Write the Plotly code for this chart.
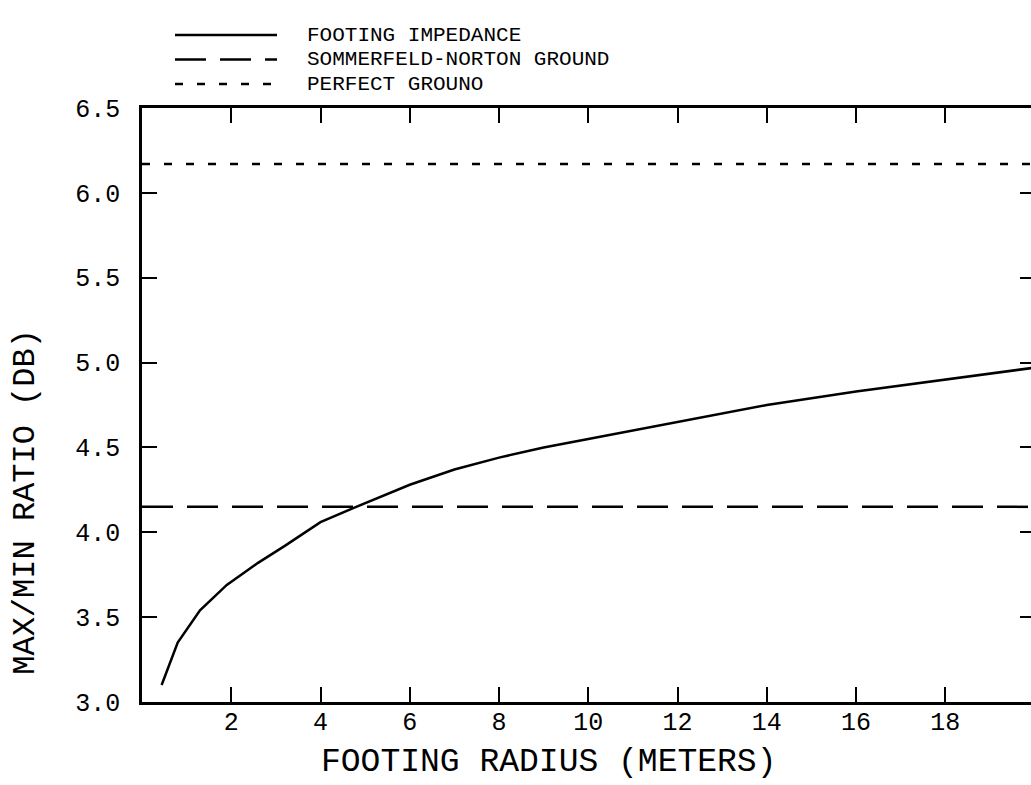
import plotly.graph_objects as go

# Footing radius (m) and max/min ratio (dB) for the footing-impedance model
radius_m = [0.44, 0.8, 1.3, 1.9, 2.6, 3.2, 4.0, 4.8, 6.0, 7.0, 8.0, 9.0,
            10.0, 11.0, 12.0, 13.0, 14.0, 16.0, 18.0, 20.0]
footing_db = [3.10, 3.35, 3.54, 3.69, 3.82, 3.92, 4.06, 4.15, 4.28, 4.37, 4.44, 4.50,
              4.55, 4.60, 4.65, 4.70, 4.75, 4.83, 4.90, 4.97]

# Reference levels (constant with radius)
sommerfeld_db = 4.15
perfect_db = 6.17
ref_span = [0.0, 20.0]

series_names = ["FOOTING IMPEDANCE", "SOMMERFELD-NORTON GROUND", "PERFECT GROUNO"]
series_dash = ["solid", "31px,14px", "8px,14px"]

x_tick_vals = [2, 4, 6, 8, 10, 12, 14, 16, 18]
y_tick_vals = [3.0, 3.5, 4.0, 4.5, 5.0, 5.5, 6.0, 6.5]

W, H = 1031, 785
L, R, T, B = 142, 0, 108, 83
FONT = "Liberation Mono"
INK = "#000000"

fig = go.Figure()
fig.add_trace(go.Scatter(x=radius_m, y=footing_db, mode="lines",
                         line=dict(color=INK, width=2.5, dash=series_dash[0]),
                         name=series_names[0], hoverinfo="skip"))
fig.add_trace(go.Scatter(x=ref_span, y=[sommerfeld_db] * 2, mode="lines",
                         line=dict(color=INK, width=2.5, dash=series_dash[1]),
                         name=series_names[1], hoverinfo="skip"))
fig.add_trace(go.Scatter(x=ref_span, y=[perfect_db] * 2, mode="lines",
                         line=dict(color=INK, width=2.5, dash=series_dash[2]),
                         name=series_names[2], hoverinfo="skip"))
# carrier for the right-hand tick axis
fig.add_trace(go.Scatter(x=[None], y=[None], yaxis="y2", showlegend=False,
                         hoverinfo="skip"))

# Legend drawn above the frame
pw = W - L - R
ph = H - T - B


def px_x(p):
    return (p - L) / pw


def px_y(p):
    return (H - B - p) / ph


legend_rows = [35, 59.5, 84]
for name, dash, row in zip(series_names, series_dash, legend_rows):
    fig.add_shape(type="line", xref="paper", yref="paper",
                  x0=px_x(175), x1=px_x(277), y0=px_y(row), y1=px_y(row),
                  line=dict(color=INK, width=2.5, dash=dash))
    fig.add_annotation(xref="paper", yref="paper", x=px_x(306), y=px_y(row),
                       text=name, showarrow=False, xanchor="left", yanchor="middle",
                       height=18, borderpad=0, valign="middle",
                       font=dict(family=FONT, size=21, color=INK))

fig.add_annotation(xref="x", yref="paper", x=9.1, y=px_y(762),
                   text="FOOTING RADIUS (METERS)", showarrow=False,
                   xanchor="center", yanchor="middle",
                   font=dict(family=FONT, size=33, color=INK))
fig.add_annotation(xref="paper", yref="y", x=px_x(26), y=4.18,
                   text="MAX/MIN RATIO (DB)", showarrow=False, textangle=-90,
                   xanchor="center", yanchor="middle",
                   font=dict(family=FONT, size=32, color=INK))

fig.update_layout(
    width=W, height=H,
    margin=dict(l=L, r=R, t=T, b=B, pad=0),
    paper_bgcolor="white", plot_bgcolor="white",
    showlegend=False,
    font=dict(family=FONT, color=INK),
    xaxis=dict(range=[0, 19.92], tickvals=x_tick_vals, ticktext=[str(v) for v in x_tick_vals],
               ticks="inside", ticklen=15, tickwidth=2, tickcolor=INK,
               showline=True, linewidth=2.5, linecolor=INK, mirror="ticks",
               showgrid=False, zeroline=False, ticklabelstandoff=-5,
               tickfont=dict(family=FONT, size=25, color=INK)),
    yaxis=dict(range=[3.0, 6.5], tickvals=y_tick_vals, tickformat=".1f",
               ticks="inside", ticklen=15, tickwidth=2, tickcolor=INK,
               showline=True, linewidth=2.5, linecolor=INK, mirror=False,
               showgrid=False, zeroline=False, ticklabelstandoff=14,
               tickfont=dict(family=FONT, size=25, color=INK)),
    yaxis2=dict(range=[3.0, 6.5], tickvals=y_tick_vals, overlaying="y", side="right",
                ticks="inside", ticklen=11, tickwidth=2, tickcolor=INK,
                showline=False, showgrid=False, zeroline=False, showticklabels=False),
)

fig.write_html("out.html")
